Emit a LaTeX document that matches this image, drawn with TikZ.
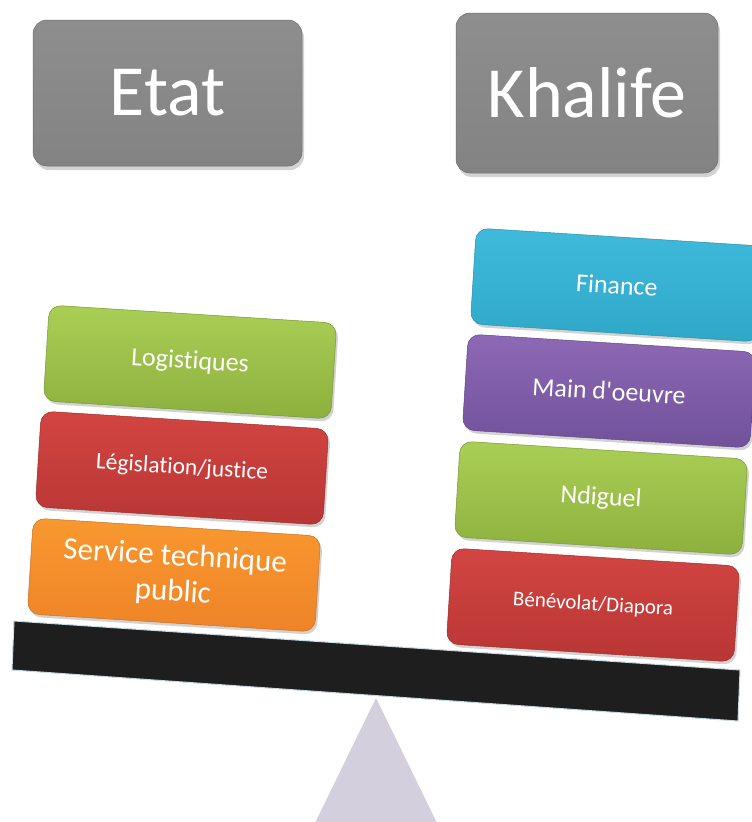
\documentclass[tikz,border=0pt]{standalone}
\usepackage{fontspec}
\newfontfamily\carl{Carlito}[Ligatures={NoCommon}]
\usetikzlibrary{shadows}
\definecolor{grayT}{HTML}{8E8E8E}
\definecolor{grayB}{HTML}{838383}
\definecolor{greenT}{HTML}{AACF55}
\definecolor{greenB}{HTML}{8DB03E}
\definecolor{redT}{HTML}{D24542}
\definecolor{redB}{HTML}{B83634}
\definecolor{orangeT}{HTML}{F9982F}
\definecolor{orangeB}{HTML}{EE8428}
\definecolor{blueT}{HTML}{40BADB}
\definecolor{blueB}{HTML}{2FA8C8}
\definecolor{purpleT}{HTML}{8E69B5}
\definecolor{purpleB}{HTML}{70519A}
\definecolor{beam}{HTML}{1E1E1E}
\definecolor{beamedge}{HTML}{C9DAE3}
\definecolor{pivot}{HTML}{D3CFDD}
\tikzset{
  headbox/.style={rounded corners=14pt, text=white, top color=grayT, bottom color=grayB,
    draw=grayB!85!black, line width=0.5pt,
    drop shadow={shadow xshift=2pt, shadow yshift=-4pt, opacity=0.35},
    font=\carl\fontsize{72}{80}\selectfont},
  block/.style={rounded corners=12pt, minimum width=288pt, minimum height=96pt,
    text=white, align=center, rotate=-3.6, line width=0.5pt,
    drop shadow={shadow xshift=2pt, shadow yshift=-3pt, opacity=0.35},
    font=\carl\fontsize{26}{30}\selectfont},
  greenbox/.style={block, top color=greenT, bottom color=greenB, draw=greenB!85!black},
  redbox/.style={block, top color=redT, bottom color=redB, draw=redB!85!black},
  orangebox/.style={block, top color=orangeT, bottom color=orangeB, draw=orangeB!85!black},
  bluebox/.style={block, top color=blueT, bottom color=blueB, draw=blueB!85!black},
  purplebox/.style={block, top color=purpleT, bottom color=purpleB, draw=purpleB!85!black},
}
\begin{document}
\begin{tikzpicture}[x=1pt, y=-1pt]
\useasboundingbox (0,0) rectangle (752,822);
\fill[white] (0,0) rectangle (752,822);

% header boxes
\node[headbox, minimum width=269pt, minimum height=146pt] (etat) at (167.5,93) {Etat};
\node[headbox, minimum width=262pt, minimum height=160pt] (khalife) at (587,93) {Khalife};

% pivot and beam
\fill[pivot] (376,698) -- (437,823) -- (315,823) -- cycle;
\filldraw[fill=beam, draw=beamedge, line width=1pt] (14,621) -- (740,670) -- (738,721) -- (12,670) -- cycle;

% left stack
\node[orangebox, font=\carl\fontsize{31}{36}\selectfont] (service) at (174,575) {Service technique\\public};
\node[redbox, font=\carl\fontsize{23.5}{28}\selectfont] (legis) at (182,468) {Législation/justice};
\node[greenbox] (logist) at (190,362) {Logistiques};

% right stack
\node[redbox, font=\carl\fontsize{21}{25}\selectfont] (benev) at (593,605) {Bénévolat/Diapora};
\node[greenbox] (ndiguel) at (601,498) {Ndiguel};
\node[purplebox] (main) at (609,391) {Main d'oeuvre};
\node[bluebox] (finance) at (617,285) {Finance};
\end{tikzpicture}
\end{document}
